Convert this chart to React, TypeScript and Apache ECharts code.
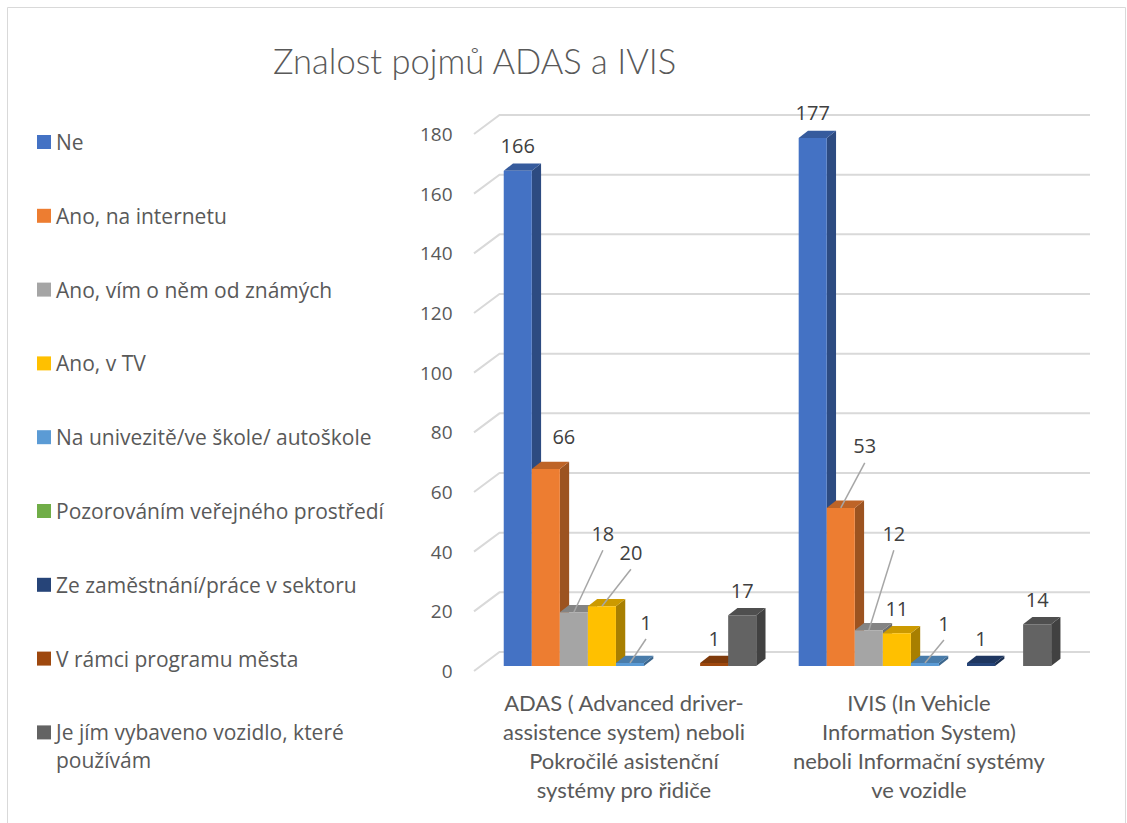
import React, { useEffect, useRef } from "react";
import * as echarts from "echarts";

const categories = [
  "ADAS ( Advanced driver-\nassistence system) neboli\nPokročilé asistenční\nsystémy pro řidiče",
  "IVIS (In Vehicle\nInformation System)\nneboli Informační systémy\nve vozidle",
];

const seriesNames = [
  "Ne",
  "Ano, na internetu",
  "Ano, vím o něm od známých",
  "Ano, v TV",
  "Na univezitě/ve škole/ autoškole",
  "Pozorováním veřejného prostředí",
  "Ze zaměstnání/práce v sektoru",
  "V rámci programu města",
  "Je jím vybaveno vozidlo, které používám",
];

const ne = [166, 177];
const naInternetu = [66, 53];
const odZnamych = [18, 12];
const vTV = [20, 11];
const veSkole = [1, 1];
const pozorovanim = [null, null];
const zeZamestnani = [null, 1];
const programMesta = [1, null];
const vozidlo = [17, 14];

const seriesValues = [ne, naInternetu, odZnamych, vTV, veSkole, pozorovanim, zeZamestnani, programMesta, vozidlo];

const yTicks = [0, 20, 40, 60, 80, 100, 120, 140, 160, 180];

const colors = ["#4472C4", "#ED7D31", "#A5A5A5", "#FFC000", "#5B9BD5", "#70AD47", "#264478", "#9E480E", "#636363"];

// label displacement (px) per series / category, as placed in the original
const labelShift = [
  [[0, 0], [0, 0]],
  [[18, -8], [24, -37]],
  [[29, -54], [25, -72]],
  [[29, -29], [0, 0]],
  [[16, -16], [19, -15]],
  [[0, 0], [0, 0]],
  [[0, 0], [0, 0]],
  [[0, 0], [0, 0]],
  [[0, 0], [0, 0]],
];

const CAT_GAP = 0.144;
const DX = 9.3;
const DY = 7.3;
const TXT = "#595959";

function shade(hex: string, f: number) {
  const n = parseInt(hex.slice(1), 16);
  const r = Math.round(((n >> 16) & 255) * f);
  const g = Math.round(((n >> 8) & 255) * f);
  const b = Math.round((n & 255) * f);
  return `rgb(${r},${g},${b})`;
}

function makeBar(si: number) {
  return (params: any, api: any) => {
    const v = api.value(1);
    if (v == null || isNaN(v)) return null;
    const ci = api.value(0);
    const bandW = api.size([1, 0])[0];
    const groupW = bandW * (1 - CAT_GAP);
    const bw = groupW / seriesNames.length;
    const [cx, yTop] = api.coord([ci, v]);
    const yBase = api.coord([ci, 0])[1];
    const x = cx - groupW / 2 + si * bw;
    const col = colors[si];
    const children: any[] = [];
    children.push({
      type: "polygon",
      shape: { points: [[x + bw, yTop], [x + bw + DX, yTop - DY], [x + bw + DX, yBase - DY], [x + bw, yBase]] },
      style: { fill: shade(col, 0.66) },
    });
    children.push({
      type: "polygon",
      shape: { points: [[x, yTop], [x + DX, yTop - DY], [x + bw + DX, yTop - DY], [x + bw, yTop]] },
      style: { fill: shade(col, 0.8) },
    });
    children.push({
      type: "rect",
      shape: { x, y: yTop, width: bw, height: Math.max(yBase - yTop, 0) },
      style: { fill: col },
    });
    const [sx, sy] = labelShift[si][ci];
    const lx = x + bw / 2 + sx;
    const ly = yTop - 25 + sy;
    if (sy < -12) {
      children.push({
        type: "line",
        shape: { x1: lx, y1: ly + 17, x2: x + bw / 2, y2: yTop },
        style: { stroke: "#A6A6A6", lineWidth: 1.5 },
      });
    }
    children.push({
      type: "text",
      x: lx,
      y: ly,
      style: {
        text: String(v),
        fill: "#404040",
        fontSize: 20,
        fontFamily: "Open Sans",
        align: "center",
        verticalAlign: "middle",
      },
    });
    return { type: "group", children };
  };
}

function renderGridLine(params: any, api: any) {
  const cs = params.coordSys;
  const y = api.coord([0, api.value(1)])[1];
  return {
    type: "polyline",
    shape: {
      points: [
        [cs.x - 8.5, y + 5],
        [cs.x + 17, y - 14],
        [cs.x + cs.width + 17.6, y - 14],
      ],
    },
    style: { stroke: "#D9D9D9", lineWidth: 2, fill: "none" },
    silent: true,
  };
}

const legendIcon = "path://M0,35H14V49H0Z M0,0 M0,84";

export default function App() {
  const ref = useRef<HTMLDivElement>(null);
  useEffect(() => {
    if (!ref.current) return;
    const chart = echarts.init(ref.current, undefined, { renderer: "svg" });
    const barSeries = seriesNames.map((name, si) => ({
      type: "custom",
      name,
      renderItem: makeBar(si),
      data: seriesValues[si].map((v, ci) => [ci, v == null ? "-" : v]),
      itemStyle: { color: colors[si] },
      z: 3,
      silent: true,
      clip: false,
    }));
    chart.setOption({
      animation: false,
      backgroundColor: "#ffffff",
      title: {
        text: "Znalost pojmů ADAS a IVIS",
        left: 268,
        top: 38,
        textStyle: { fontSize: 34.5, fontWeight: 300, color: TXT, fontFamily: "Lato" },
      },
      legend: {
        orient: "vertical",
        left: 37,
        top: 100,
        padding: 0,
        itemWidth: 14,
        itemHeight: 84,
        itemGap: -10.2,
        selectedMode: false,
        textStyle: { fontSize: 21, lineHeight: 28, color: TXT, fontFamily: "Open Sans" },
        data: seriesNames.map((name) => ({ name, icon: legendIcon })),
        formatter: (name: string) =>
          name === seriesNames[8] ? "\nJe jím vybaveno vozidlo, které\npoužívám" : name,
      },
      graphic: [
        {
          type: "rect",
          shape: { x: 7.5, y: 7.5, width: 1118, height: 840 },
          style: { fill: "none", stroke: "#D9D9D9", lineWidth: 1 },
          silent: true,
        },
      ],
      grid: { left: 482.5, right: 54.6, top: 129, bottom: 157, containLabel: false },
      xAxis: {
        type: "category",
        data: categories,
        axisLine: { show: false },
        axisTick: { show: false },
        splitLine: { show: false },
        axisLabel: {
          interval: 0,
          margin: 22,
          fontSize: 22,
          lineHeight: 29,
          color: TXT,
          fontFamily: "Lato",
          padding: [0, 12, 0, 0],
        },
      },
      yAxis: {
        type: "value",
        min: 0,
        max: 180,
        interval: 20,
        axisLine: { show: false },
        axisTick: { show: false },
        splitLine: { show: false },
        axisLabel: {
          margin: 30,
          fontSize: 19,
          color: TXT,
          fontFamily: "Open Sans",
          verticalAlign: "top",
          lineHeight: 10,
        },
      },
      series: [
        {
          type: "custom",
          name: "__grid",
          renderItem: renderGridLine,
          data: yTicks.map((t) => [0, t]),
          z: 1,
          silent: true,
          clip: false,
        },
        ...barSeries,
      ],
    });
    return () => chart.dispose();
  }, []);
  return (
    <div
      ref={ref}
      style={{ position: "absolute", left: 0, top: 0, width: 1127, height: 823 }}
    />
  );
}
